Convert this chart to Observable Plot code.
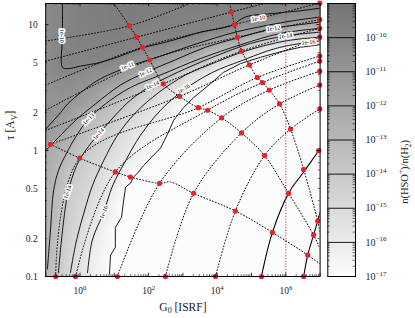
<!DOCTYPE html>
<html><head><meta charset="utf-8">
<script src="https://cdn.jsdelivr.net/npm/d3@7"></script>
<script src="https://cdn.jsdelivr.net/npm/@observablehq/plot@0.6"></script>
<style>
html,body{margin:0;padding:0;background:#fff;}
#wrap{position:relative;width:415px;height:318px;overflow:hidden;}
#wrap svg{position:absolute;left:0;top:0;}
</style></head><body><div id="wrap"></div>
<script>
// ---------- DATA (log10 G0 , log10 tau) ----------
const c10=[[-0.51,1.17],[-0.51,0.91],[-0.51,0.66],[-0.36,0.65],[0.01,0.67],[0.60,0.70],[1.18,0.75],[1.76,0.81],[2.49,0.86],[3.02,0.90],[3.51,0.94],[4.39,0.99],[4.82,1.06],[5.70,1.09],[6.43,1.11],[7.0,1.13]];
const c11=[[-1.0,0.17],[-0.57,0.30],[-0.36,0.37],[0.16,0.49],[0.60,0.57],[1.56,0.68],[2.35,0.75],[3.43,0.85],[4.39,0.93],[5.20,0.98],[6.20,1.03],[7.0,1.06]];
const c12=[[-1.0,0.00],[-0.57,0.12],[-0.13,0.24],[0.45,0.37],[1.18,0.52],[1.91,0.62],[2.78,0.72],[3.66,0.82],[4.68,0.90],[5.64,0.97],[6.43,1.00],[7.0,1.02]];
const c13=[[-0.95,-0.94],[-0.86,-0.63],[-0.77,-0.32],[-0.63,-0.16],[-0.39,-0.02],[-0.10,0.12],[0.25,0.25],[0.74,0.37],[1.47,0.50],[2.35,0.60],[3.51,0.73],[4.68,0.84],[5.85,0.93],[7.0,0.97]];
const c14=[[-0.63,-0.97],[-0.54,-0.71],[-0.42,-0.44],[-0.34,-0.32],[-0.10,-0.12],[0.16,0.00],[0.54,0.13],[1.03,0.28],[1.47,0.40],[2.11,0.52],[3.08,0.65],[3.95,0.75],[4.97,0.85],[5.99,0.91],[7.0,0.94]];
const c15=[[-0.28,-0.97],[-0.10,-0.71],[0.13,-0.48],[0.36,-0.28],[0.69,-0.08],[1.09,0.12],[1.62,0.30],[2.29,0.46],[3.08,0.60],[3.95,0.70],[4.82,0.79],[5.99,0.87],[7.0,0.90]];
const c16=[[0.22,-0.97],[0.36,-0.71],[0.69,-0.49],[0.95,-0.28],[1.33,-0.08],[1.76,0.12],[2.35,0.32],[3.02,0.48],[3.86,0.62],[4.68,0.71],[5.70,0.81],[6.66,0.86],[7.0,0.87]];
const c17=[[0.86,-0.98],[0.89,-0.83],[1.03,-0.77],[1.03,-0.61],[1.21,-0.53],[1.27,-0.40],[1.33,-0.29],[1.47,-0.26],[1.56,-0.21],[1.68,-0.18],[1.85,-0.12],[2.06,-0.06],[2.35,0.02],[2.55,0.13],[2.73,0.24],[3.02,0.34],[3.31,0.42],[3.80,0.53],[4.18,0.62],[4.68,0.69],[5.26,0.74],[5.93,0.79],[6.43,0.82],[7.0,0.84]];
const levels=[-10,-11,-12,-13,-14,-15,-16,-17];
// extra samples of log10 abundance away from the contours
const fillSamples=[[-1.0,1.17,-10.3],[-1.0,0.9,-10.4],[-1.0,0.55,-10.6],[-1.0,-0.5,-12.6],[-1.0,-1.0,-12.9],
 [-0.3,1.17,-9.85],[0.0,1.17,-9.7],[0.0,0.85,-9.8],[1.0,1.0,-9.6],[2.0,1.17,-9.5],[4.0,1.17,-9.7],[6.0,1.17,-9.9],[7.0,1.17,-9.95],
 [7.0,-1.0,-17.5],[5.0,-1.0,-17.5],[3.0,-1.0,-17.5],[1.6,-1.0,-17.4],[7.0,0.5,-17.3],[5.0,0.3,-17.4],[3.5,0.0,-17.4],[2.5,-0.5,-17.4]];
// dotted model tracks
const Ta=[[-0.86,0.05],[-0.01,-0.06],[1.03,-0.17],[1.47,-0.21],[2.32,-0.26],[2.64,-0.25],[3.31,-0.34],[4.53,-0.48],[5.61,-0.65],[6.64,-0.83],[7.0,-0.90]];
const Tb=[[0.98,1.17],[1.44,0.99],[1.65,0.90],[1.82,0.82],[2.03,0.72],[2.43,0.53],[2.90,0.43],[3.45,0.34],[3.72,0.32],[4.13,0.26],[4.71,0.14],[5.38,-0.04],[6.08,-0.34],[6.81,-0.67],[7.0,-0.78]];
const Tc=[[4.36,1.17],[4.42,1.10],[4.50,1.00],[4.59,0.90],[4.71,0.79],[4.94,0.68],[5.17,0.58],[5.32,0.54],[5.52,0.48],[5.82,0.37],[6.14,0.17],[6.52,-0.15],[6.93,-0.56],[7.0,-0.65]];
const A0=[[-1.0,0.87],[1.44,0.99],[3.22,1.17]];
const A1=[[-1.0,0.71],[1.65,0.90],[4.42,1.10],[5.41,1.17]];
const A2=[[-1.0,0.52],[1.82,0.82],[4.50,1.00],[6.99,1.17]];
const A3=[[-1.0,0.32],[2.03,0.72],[4.59,0.90],[6.99,1.04]];
const A4=[[-1.0,0.16],[2.43,0.53],[4.71,0.79],[6.99,0.97]];
const A5=[[-0.86,0.05],[2.90,0.43],[4.94,0.68],[6.99,0.90]];
const A6=[[-0.71,-1.0],[-0.01,-0.06],[3.45,0.34],[5.17,0.58],[6.99,0.75]];
const A7=[[-0.13,-1.0],[1.03,-0.17],[3.72,0.32],[5.32,0.54],[6.99,0.71]];
const A8=[[1.09,-1.0],[2.32,-0.26],[4.13,0.26],[5.52,0.48],[6.99,0.63]];
const A9=[[2.49,-1.0],[3.31,-0.34],[4.71,0.14],[5.82,0.37],[6.99,0.52]];
const A10=[[3.95,-1.0],[4.53,-0.48],[5.38,-0.04],[6.14,0.17],[6.99,0.33]];
const S1=[[5.29,-1.0],[5.61,-0.65],[6.08,-0.34],[6.52,-0.17],[6.96,0.0],[7.0,0.02]];
const S2=[[6.52,-1.0],[6.64,-0.83],[6.81,-0.67],[6.93,-0.56],[7.0,-0.49]];
const redDots=[[1.44,0.99],[1.65,0.90],[1.82,0.82],[2.03,0.72],[2.43,0.53],[2.90,0.43],[3.45,0.34],[3.72,0.32],[4.13,0.26],[4.71,0.14],[5.38,-0.04],[6.08,-0.34],[6.81,-0.67],
 [4.42,1.10],[4.50,1.00],[4.59,0.90],[4.71,0.79],[4.94,0.68],[5.17,0.58],[5.32,0.54],[5.52,0.48],[5.82,0.37],[6.14,0.17],[6.52,-0.15],[6.93,-0.56],
 [-0.86,0.05],[-0.01,-0.06],[1.03,-0.17],[1.47,-0.21],[2.32,-0.26],[3.31,-0.34],[4.53,-0.48],[5.61,-0.65],[6.64,-0.83],
 [-0.71,-1.0],[-0.13,-1.0],[1.09,-1.0],[2.49,-1.0],[3.95,-1.0],[5.29,-1.0],[6.52,-1.0],
 [6.99,1.17],[6.99,1.04],[6.99,0.97],[6.99,0.90],[6.99,0.75],[6.99,0.71],[6.99,0.63],[6.99,0.52],[6.99,0.33],[6.96,0.0]];
const redLineG=[1e6];
const labelText=["1e-10","1e-11","1e-12","1e-13","1e-14","1e-14","1e-16","1e-14","1e-16","1e-10","1e-12","1e-14","1e-16"];
const labelPos=[[-0.52,0.91],[1.38,0.67],[1.91,0.62],[0.25,0.25],[0.54,0.13],[-0.36,-0.33],[0.69,-0.49],[2.11,0.52],[3.02,0.49],[5.20,1.05],[5.64,0.97],[5.99,0.91],[6.66,0.86]];
const labelAngle=[90,-22,-25,-45,-48,-72,-68,-25,-30,-8,-8,-7,-5];
const xTickVals=[1,100,1e4,1e6], xTickText=["10^{0}","10^{2}","10^{4}","10^{6}"];
const yTickVals=[0.1,0.2,0.5,1,2,5,10], yTickText=["0.1","0.2","0.5","1","2","5","10"];
const cbTickExp=[-17,-16,-15,-14,-13,-12,-11,-10];
const cbTickText=["10^{−17}","10^{−16}","10^{−15}","10^{−14}","10^{−13}","10^{−12}","10^{−11}","10^{−10}"];
const xDomain=[0.1,1e7], yDomain=[0.1,14.7], cbDomain=[-17,-9];
const xLabel="G_{0} [ISRF]", yLabel="τ [A_{V}]", cbLabel="n(HSO^{+})/n(H_{2})";

// ---------- CHART ----------
const FONT='"Liberation Serif","DejaVu Serif",serif';
const W=415,H=318, fL=45.2, fR=319.6, fT=3, fB=276, fw=fR-fL, fh=fB-fT;
const X=d=>10**d[0], Y=d=>10**d[1];
const colorOpt={type:"linear",domain:cbDomain,range:["#fcfcfc","#747474"],clamp:true};
const sets=[c10,c11,c12,c13,c14,c15,c16,c17];
const cRows=sets.flatMap((pts,i)=>pts.map(p=>({u:p[0],v:p[1],val:levels[i],lv:levels[i]})));
const fRows=cRows.concat(fillSamples.map(s=>({u:s[0],v:s[1],val:s[2]})));
const isPow=t=>Math.abs(Math.log10(t)-Math.round(Math.log10(t)))<1e-9;
const xAll=d3.scaleLog().domain(xDomain).ticks(), yAll=d3.scaleLog().domain(yDomain).ticks();
const xMaj=xAll.filter(isPow), xMin=xAll.filter(t=>!isPow(t));
const yMaj=yAll.filter(isPow), yMin=yAll.filter(t=>!isPow(t));
const labels=labelText.map((t,i)=>({t,u:labelPos[i][0],v:labelPos[i][1],r:labelAngle[i]}));
const dotted={x:X,y:Y,stroke:"black",strokeWidth:1,strokeDasharray:"0.9 2.2",strokeLinecap:"round",curve:"catmull-rom",clip:"frame"};
const tk=(len,side)=>side==="b"?{insetTop:fh-len}:side==="t"?{insetBottom:fh-len}:side==="l"?{insetRight:fw-len}:{insetLeft:fw-len};

const main=Plot.plot({
  width:W,height:H,marginLeft:fL,marginRight:W-fR,marginTop:fT,marginBottom:H-fB,
  style:{fontFamily:FONT,background:"transparent",overflow:"visible"},
  x:{type:"log",domain:xDomain,axis:null},
  y:{type:"log",domain:yDomain,axis:null},
  color:colorOpt,
  marks:[
    Plot.raster(fRows,{x:d=>10**d.u,y:d=>10**d.v,fill:"val",interpolate:"barycentric"}),
    Plot.line(cRows.filter(d=>d.lv!==-17),{x:d=>10**d.u,y:d=>10**d.v,z:"lv",stroke:"black",strokeWidth:0.9,curve:"catmull-rom",clip:"frame"}),
    Plot.line(c17,{x:X,y:Y,stroke:"black",strokeWidth:0.9,clip:"frame"}),
    ...[Ta,Tb,Tc,A0,A1,A2,A3,A4,A5,A6,A7,A8,A9,A10].map(a=>Plot.line(a,dotted)),
    ...[S1,S2].map(a=>Plot.line(a,{x:X,y:Y,stroke:"black",strokeWidth:1.1,curve:"catmull-rom",clip:"frame"})),
    Plot.ruleX(redLineG,{x:d=>d,stroke:"#e3262b",strokeWidth:1,strokeDasharray:"1.2 1.6"}),
    Plot.text(labels,{x:d=>10**d.u,y:d=>10**d.v,text:"t",rotate:"r",fontSize:6,fill:"black",stroke:"white",strokeWidth:3,fontFamily:FONT}),
    Plot.dot(redDots,{x:X,y:Y,r:2.6,fill:"#e8212b",stroke:null}),
    Plot.frame({stroke:"black",strokeWidth:1}),
    Plot.tickX(xMaj,{x:d=>d,...tk(3.2,"b"),strokeWidth:0.8}),
    Plot.tickX(xMaj,{x:d=>d,...tk(3.2,"t"),strokeWidth:0.8}),
    Plot.tickX(xMin,{x:d=>d,...tk(1.8,"b"),strokeWidth:0.6}),
    Plot.tickX(xMin,{x:d=>d,...tk(1.8,"t"),strokeWidth:0.6}),
    Plot.tickY(yMaj,{y:d=>d,...tk(3.2,"l"),strokeWidth:0.8}),
    Plot.tickY(yMaj,{y:d=>d,...tk(3.2,"r"),strokeWidth:0.8}),
    Plot.tickY(yMin,{y:d=>d,...tk(1.8,"l"),strokeWidth:0.6}),
    Plot.tickY(yMin,{y:d=>d,...tk(1.8,"r"),strokeWidth:0.6}),
    Plot.text(xTickVals,{x:d=>d,frameAnchor:"bottom",dy:17,text:(d,i)=>xTickText[i],fontSize:9.5,fill:"#222"}),
    Plot.text(yTickVals,{y:d=>d,frameAnchor:"left",dx:-8,textAnchor:"end",text:(d,i)=>yTickText[i],fontSize:9.5,fill:"#222"}),
    Plot.text([xLabel],{frameAnchor:"bottom",dy:34,text:d=>d,fontSize:11.5,fill:"#222"}),
    Plot.text([yLabel],{frameAnchor:"left",dx:-35,rotate:-90,text:d=>d,fontSize:11.5,fill:"#222"})
  ]
});

const cL=327.3,cR=355, cw=cR-cL;
const cbAll=d3.scaleLog().domain(cbDomain.map(e=>10**e)).ticks();
const cbMin=cbAll.filter(t=>!isPow(t));
const cbRules=cbAll.filter(isPow).map(t=>Math.round(Math.log10(t)));
const cb=Plot.plot({
  width:W,height:H,marginLeft:cL,marginRight:W-cR,marginTop:fT,marginBottom:H-fB,
  style:{fontFamily:FONT,background:"transparent",overflow:"visible"},
  x:{domain:[0,1],axis:null}, y:{domain:cbDomain,axis:null},
  color:colorOpt,
  marks:[
    Plot.raster({fill:(x,y)=>y,x1:0,x2:1,y1:cbDomain[0],y2:cbDomain[1],width:4,height:273}),
    Plot.ruleY(cbRules,{y:d=>d,stroke:"black",strokeWidth:0.9}),
    Plot.tickY(cbMin,{y:d=>Math.log10(d),insetRight:cw-2.4,strokeWidth:0.6}),
    Plot.tickY(cbMin,{y:d=>Math.log10(d),insetLeft:cw-2.4,strokeWidth:0.6}),
    Plot.frame({stroke:"black",strokeWidth:1}),
    Plot.text(cbTickExp,{y:d=>d,frameAnchor:"right",dx:10,textAnchor:"start",text:(d,i)=>cbTickText[i],fontSize:10,fill:"#222"}),
    Plot.text([cbLabel],{frameAnchor:"right",dx:49,rotate:-90,text:d=>d,fontSize:10.5,fill:"#222"})
  ]
});

const wrap=document.getElementById("wrap");
wrap.appendChild(main); wrap.appendChild(cb);

// rich text: ^{..} superscript, _{..} subscript
const NS="http://www.w3.org/2000/svg";
function rich(el){
  const s=el.textContent;
  if(!/[\^_]\{/.test(s)) return;
  const f=parseFloat(getComputedStyle(el).fontSize)||10;
  el.textContent="";
  let off=0;
  const add=(t,kind)=>{
    if(!t) return;
    const ts=document.createElementNS(NS,"tspan");
    ts.textContent=t;
    const target=kind==="^"?-0.42*f:kind==="_"?0.25*f:0;
    if(target!==off){ts.setAttribute("dy",(target-off).toFixed(2));off=target;}
    if(kind) ts.setAttribute("font-size",(0.7*f).toFixed(2));
    el.appendChild(ts);
  };
  const re=/([\^_])\{([^}]*)\}/g; let last=0,m;
  while((m=re.exec(s))){ add(s.slice(last,m.index),null); add(m[2],m[1]); last=re.lastIndex; }
  add(s.slice(last),null);
}
wrap.querySelectorAll("text").forEach(rich);
</script></body></html>
